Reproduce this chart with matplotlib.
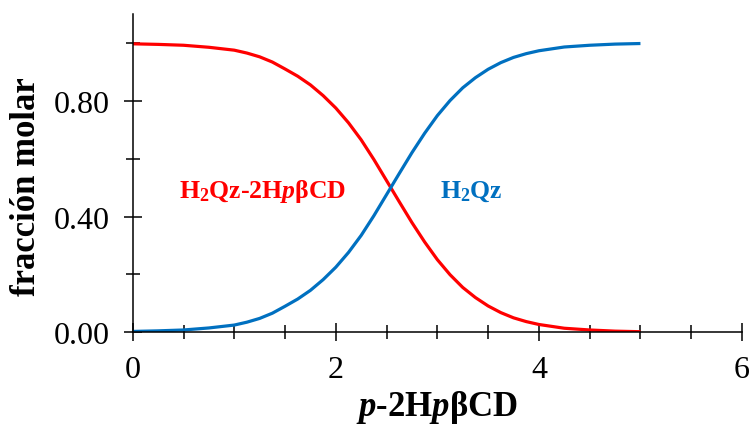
import matplotlib
matplotlib.use("Agg")
import matplotlib.pyplot as plt
from matplotlib.ticker import MultipleLocator, FixedLocator

# Data
x_vals = [0, 0.25, 0.5, 0.75, 1.0, 1.125, 1.25, 1.375, 1.5, 1.625, 1.75,
          1.875, 2.0, 2.125, 2.25, 2.375, 2.5, 2.625, 2.75, 2.875, 3.0,
          3.125, 3.25, 3.375, 3.5, 3.625, 3.75, 3.875, 4.0, 4.25, 4.5,
          4.75, 5.0]
complex_frac = [0.997, 0.995, 0.992, 0.985, 0.975, 0.965, 0.952, 0.934,
                0.910, 0.885, 0.855, 0.818, 0.775, 0.724, 0.665, 0.597,
                0.524, 0.451, 0.379, 0.312, 0.251, 0.199, 0.155, 0.120,
                0.091, 0.068, 0.050, 0.037, 0.027, 0.014, 0.008, 0.004,
                0.002]
free_frac = [1 - v for v in complex_frac]

y_major = [0.0, 0.4, 0.8]
y_minor = [0.2, 0.6, 1.0]
y_labels = ["0.00", "0.40", "0.80"]

RED = "#FF0000"
BLUE = "#0070C0"

plt.rcParams["mathtext.fontset"] = "custom"
plt.rcParams["mathtext.rm"] = "Liberation Serif"
plt.rcParams["mathtext.bf"] = "Liberation Serif:bold"
plt.rcParams["mathtext.it"] = "Liberation Serif:italic"
plt.rcParams["mathtext.bfit"] = "Liberation Serif:italic:bold"
plt.rcParams["font.family"] = ["Liberation Serif", "DejaVu Serif"]

fig = plt.figure(figsize=(7.52, 4.35), dpi=100)
ax = fig.add_axes([0.1765, 0.2338, 0.8102, 0.7317])

ax.plot(x_vals, complex_frac, color=RED, lw=2.3, solid_capstyle="butt",
        solid_joinstyle="round")
ax.plot(x_vals, free_frac, color=BLUE, lw=2.3, solid_capstyle="butt",
        solid_joinstyle="round")

ax.set_xlim(0, 6)
ax.set_ylim(0, 1.1)
ax.spines["top"].set_visible(False)
ax.spines["right"].set_visible(False)
for s in ("left", "bottom"):
    ax.spines[s].set_linewidth(1.1)
    ax.spines[s].set_color("black")

ax.xaxis.set_major_locator(MultipleLocator(2))
ax.xaxis.set_minor_locator(MultipleLocator(0.5))
ax.yaxis.set_major_locator(FixedLocator(y_major))
ax.yaxis.set_minor_locator(FixedLocator(y_minor))
ax.set_yticklabels(y_labels)

ax.tick_params(which="major", direction="inout", length=12.5, width=1.1,
               labelsize=23, colors="black")
ax.tick_params(which="minor", direction="inout", length=10, width=1.1)
ax.tick_params(axis="y", which="major", pad=10)
ax.tick_params(axis="x", which="major", pad=10)

ax.set_ylabel("fracción molar", fontsize=25, fontweight="bold")
ax.yaxis.set_label_coords(-0.147, 0.46)
ax.set_xlabel(r"$\mathbfit{p}$-2H$\mathbfit{p}$βCD", fontsize=25,
              fontweight="bold", labelpad=3)

ax.text(0.46, 0.49, r"H$_\mathbf{2}$Qz-2H$\mathbfit{p}$βCD", color=RED,
        fontsize=18.5, fontweight="bold", ha="left", va="center")
ax.text(3.03, 0.49, r"H$_\mathbf{2}$Qz", color=BLUE,
        fontsize=18.5, fontweight="bold", ha="left", va="center")

fig.savefig("out.png", dpi=100)
